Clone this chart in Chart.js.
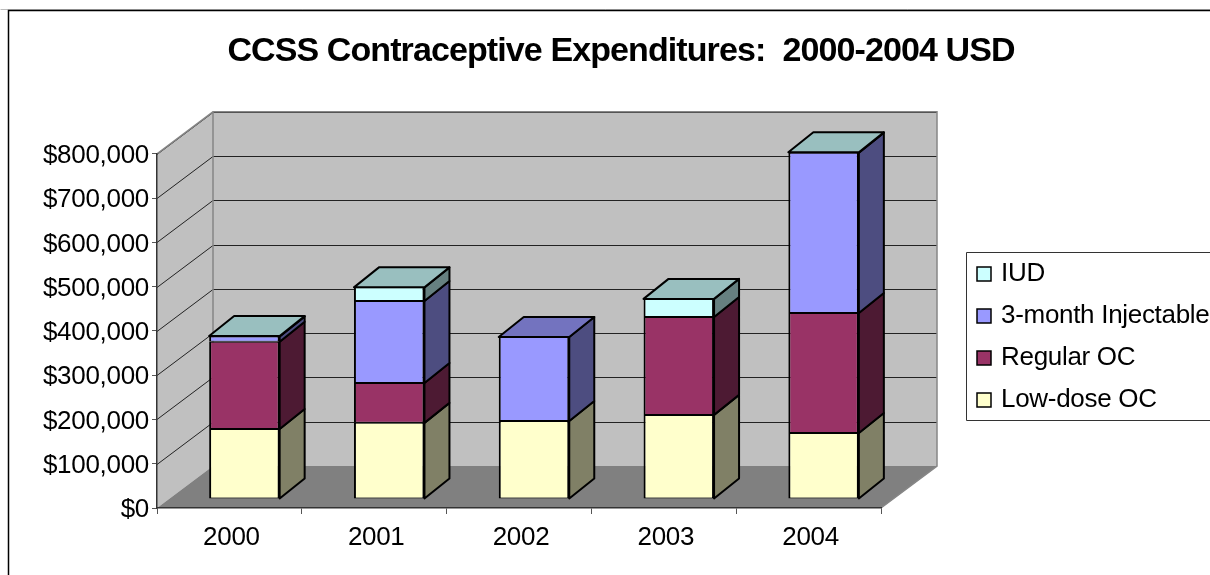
<!DOCTYPE html>
<html>
<head>
<meta charset="utf-8">
<title>CCSS Contraceptive Expenditures</title>
<script src="https://cdn.jsdelivr.net/npm/chart.js@4"></script>
<style>
  html, body { margin: 0; padding: 0; background: #fff; overflow: hidden; }
  canvas { display: block; }
</style>
</head>
<body>
<canvas id="data-chart" width="1210" height="575"></canvas>
<script>
const years = ['2000', '2001', '2002', '2003', '2004'];
const lowDose = [158000, 172000, 176000, 190000, 149000];
const regular = [197000, 90000, 0, 221000, 271000];
const injectable = [12000, 185000, 190000, 0, 362000];
const iud = [1000, 31000, 0, 41000, 1000];

// the fake 3D depth, in pixels
const wallDepth = { x: 56, y: 42 };
const barGap = { x: 15, y: 9 };
const barDepth = { x: 25, y: 20 };

const textSpacing = '-0.3px';
const titleSpacing = '-0.9px';

function poly(ctx, pts, fill, stroke, lineWidth) {
    ctx.beginPath();
    pts.forEach((p, i) => i ? ctx.lineTo(p[0], p[1]) : ctx.moveTo(p[0], p[1]));
    ctx.closePath();
    if (fill) {
        ctx.fillStyle = fill;
        ctx.fill();
    }
    if (stroke) {
        ctx.strokeStyle = stroke;
        ctx.lineWidth = lineWidth;
        ctx.lineJoin = 'round';
        ctx.stroke();
    }
}

function line(ctx, pts, color, width) {
    ctx.beginPath();
    pts.forEach((p, i) => i ? ctx.lineTo(p[0], p[1]) : ctx.moveTo(p[0], p[1]));
    ctx.strokeStyle = color;
    ctx.lineWidth = width;
    ctx.stroke();
}

const depth3d = {
    id: 'depth3d',
    afterLayout(chart) {
        // legend and title sit off-centre in the original
        const legend = chart.legend;
        legend.left = 964;
        legend.right = chart.width;
        legend.top = 245;
        legend.bottom = chart.height;
        const title = chart.titleBlock;
        title.left = 32;
        title.right = chart.width;
        if (!title.wrapped) {
            const draw = title.draw.bind(title);
            title.draw = function () {
                chart.ctx.letterSpacing = titleSpacing;
                draw();
                chart.ctx.letterSpacing = textSpacing;
            };
            title.wrapped = true;
        }
    },
    beforeDraw(chart) {
        const ctx = chart.ctx;
        const a = chart.chartArea;
        const dx = wallDepth.x, dy = wallDepth.y;
        ctx.save();
        ctx.fillStyle = '#fff';
        ctx.fillRect(0, 0, chart.width, chart.height);

        // outer chart frame, runs off the page on the right and bottom
        line(ctx, [[0.5, 9.5], [chart.width, 9.5]], '#bbb', 1);
        line(ctx, [[8.5, chart.height], [8.5, 10.5], [chart.width, 10.5]], '#000', 1.5);

        // legend frame
        line(ctx, [[chart.width, 252.5], [966.5, 252.5], [966.5, 420.5], [chart.width, 420.5]], '#333', 1);

        // walls and floor
        poly(ctx, [[a.left + dx, a.top - dy], [a.right + dx, a.top - dy], [a.right + dx, a.bottom - dy], [a.left + dx, a.bottom - dy]], '#c0c0c0');
        poly(ctx, [[a.left, a.top], [a.left + dx, a.top - dy], [a.left + dx, a.bottom - dy], [a.left, a.bottom]], '#c0c0c0');
        poly(ctx, [[a.left, a.bottom], [a.left + dx, a.bottom - dy], [a.right + dx, a.bottom - dy], [a.right, a.bottom]], '#808080');

        const y = chart.scales.y;
        y.ticks.forEach(t => {
            if (t.value === 0) return;
            const py = Math.round(y.getPixelForValue(t.value)) + 0.5;
            line(ctx, [[a.left, py], [a.left + dx, py - dy], [a.right + dx, py - dy]], '#222', 1);
        });

        const wall = '#868686';
        line(ctx, [[a.left, a.top], [a.left + dx, a.top - dy], [a.right + dx, a.top - dy], [a.right + dx, a.bottom - dy], [a.right, a.bottom]], wall, 1.5);
        line(ctx, [[a.left + dx, a.top - dy], [a.left + dx, a.bottom - dy]], wall, 1.5);
        ctx.restore();
        ctx.letterSpacing = textSpacing;
    },
    beforeDatasetsDraw(chart) {
        chart.ctx.save();
        chart.ctx.translate(barGap.x, -barGap.y);
    },
    afterDatasetsDraw(chart) {
        const ctx = chart.ctx;
        const dx = barDepth.x, dy = barDepth.y;
        chart.data.datasets.forEach((ds, i) => {
            chart.getDatasetMeta(i).data.forEach((bar, k) => {
                if (!ds.data[k]) return;
                const right = bar.x + bar.width / 2;
                const left = bar.x - bar.width / 2;
                poly(ctx, [[right, bar.y], [right + dx, bar.y - dy], [right + dx, bar.base - dy], [right, bar.base]], ds.sideColor, '#000', 2);
                // top face only on the highest piece of the stack
                const above = chart.data.datasets.slice(i + 1).some(d => d.data[k] > 0);
                if (!above) {
                    poly(ctx, [[left, bar.y], [left + dx, bar.y - dy], [right + dx, bar.y - dy], [right, bar.y]], ds.topColor, '#000', 2);
                }
            });
        });
        ctx.restore();
    }
};

function money(value) {
    return '$' + Number(value).toLocaleString('en-US');
}

const ctx = document.getElementById('data-chart').getContext('2d');
const textFont = { family: '"Liberation Sans", Arial, sans-serif', size: 26 };

const chart = new Chart(ctx, {
    type: 'bar',
    data: {
        labels: years,
        datasets: [
            { label: 'Low-dose OC', data: lowDose, backgroundColor: '#ffffcc', sideColor: '#808066', topColor: '#bfbf99' },
            { label: 'Regular OC', data: regular, backgroundColor: '#993366', sideColor: '#4d1a33', topColor: '#73264d' },
            { label: '3-month Injectable', data: injectable, backgroundColor: '#9999ff', sideColor: '#4d4d80', topColor: '#7373bf' },
            { label: 'IUD', data: iud, backgroundColor: '#ccffff', sideColor: '#668080', topColor: '#99bfbf' }
        ].map(ds => Object.assign(ds, {
            borderColor: '#000',
            // borders sit inside each piece, so stacked pieces share a 2px seam
            borderWidth: { top: 1, bottom: 1, left: 2, right: 2 },
            borderSkipped: false,
            barPercentage: 0.487,
            categoryPercentage: 1,
            clip: false
        }))
    },
    options: {
        responsive: false,
        animation: false,
        layout: { padding: { left: 8, right: 329, top: 0, bottom: 0 } },
        scales: {
            x: {
                stacked: true,
                afterFit: scale => { scale.height = 67; },
                grid: { drawOnChartArea: false, tickLength: 6, color: '#555', offset: true },
                border: { color: '#333', width: 1.5 },
                ticks: { color: '#000', font: textFont, padding: 8, labelOffset: 2, maxRotation: 0 }
            },
            y: {
                stacked: true,
                min: 0,
                max: 800000,
                afterFit: scale => { scale.width = 149; },
                grid: { drawOnChartArea: false, tickLength: 5, color: '#555' },
                border: { color: '#333', width: 1.5 },
                ticks: { stepSize: 100000, color: '#000', font: textFont, padding: 3, labelOffset: 2, callback: money }
            }
        },
        plugins: {
            title: {
                display: true,
                text: 'CCSS Contraceptive Expenditures:  2000-2004 USD',
                color: '#000',
                font: { family: '"Liberation Sans", Arial, sans-serif', size: 34, weight: 'bold' },
                padding: { top: 31, bottom: 82 }
            },
            legend: {
                position: 'chartArea',
                align: 'start',
                reverse: true,
                labels: {
                    color: '#000',
                    font: textFont,
                    boxWidth: 8,
                    boxHeight: 14,
                    usePointStyle: true,
                    pointStyle: 'rect',
                    padding: 16
                }
            },
            tooltip: { enabled: false }
        }
    },
    plugins: [depth3d]
});
</script>
</body>
</html>
